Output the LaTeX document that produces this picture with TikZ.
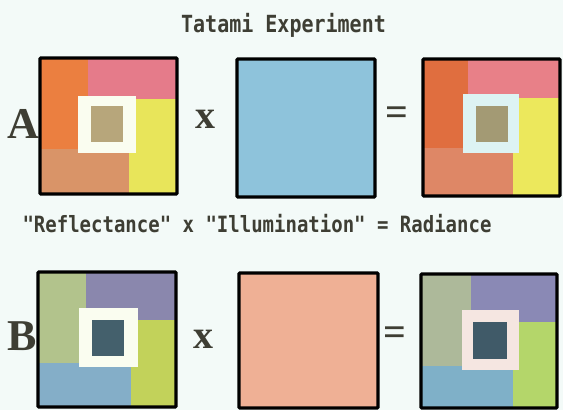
\documentclass[tikz,border=0pt]{standalone}
\usepackage{fontspec}
\usepackage{graphicx}
\newfontfamily\monob{DejaVu Sans Mono}
\newfontfamily\serifb{Liberation Serif}
\definecolor{bg}{HTML}{F3FAF8}
\definecolor{txt}{HTML}{3E3E34}
% A reflectance
\definecolor{aOr}{HTML}{EB7F40}
\definecolor{aPk}{HTML}{E57B8A}
\definecolor{aYe}{HTML}{E8E55A}
\definecolor{aTn}{HTML}{D99468}
\definecolor{aFr}{HTML}{FAFDF0}
\definecolor{aIn}{HTML}{B7A67B}
% A radiance
\definecolor{rOr}{HTML}{E06E3F}
\definecolor{rPk}{HTML}{E88088}
\definecolor{rYe}{HTML}{ECE85C}
\definecolor{rTn}{HTML}{DE8766}
\definecolor{rFr}{HTML}{DDF3F3}
\definecolor{rIn}{HTML}{A39A74}
% B reflectance
\definecolor{bSg}{HTML}{B2C38C}
\definecolor{bPu}{HTML}{8A87AD}
\definecolor{bYg}{HTML}{C2D25A}
\definecolor{bBl}{HTML}{84AEC8}
\definecolor{bFr}{HTML}{FAFDF0}
\definecolor{bIn}{HTML}{44606C}
% B radiance
\definecolor{sSg}{HTML}{ADB99A}
\definecolor{sPu}{HTML}{8A89B5}
\definecolor{sGr}{HTML}{B4D66A}
\definecolor{sBl}{HTML}{7FB0C8}
\definecolor{sFr}{HTML}{F5E6E1}
\definecolor{sIn}{HTML}{405A68}
% illuminations
\definecolor{illA}{HTML}{8EC3DB}
\definecolor{illB}{HTML}{EFB095}
\tikzset{
  border/.style={draw=black, line width=3.2pt, rounded corners=1pt},
  bigsym/.style={text=txt, font=\serifb\bfseries\fontsize{44}{44}\selectfont, inner sep=0pt},
  opsym/.style={text=txt, font=\serifb\bfseries\fontsize{40}{40}\selectfont, inner sep=0pt},
  caption/.style={text=txt, font=\monob\bfseries\fontsize{19}{19}\selectfont, inner sep=0pt}
}
\begin{document}
\begin{tikzpicture}[x=1pt,y=-1pt]
\fill[bg] (0,0) rectangle (563,410);
\useasboundingbox (0,0) rectangle (563,410);

% Title
\node[caption, font=\monob\bfseries\fontsize{20}{20}\selectfont] (title) at (283.5,25) {\scalebox{1}[1.18]{Tatami Experiment}};

% ---------- Row A ----------
\node[bigsym] (la) at (23,124) {A};
% reflectance A
\fill[aOr] (40,58) rectangle (88,149);
\fill[aPk] (88,58) rectangle (177,99);
\fill[aYe] (129,99) rectangle (177,194);
\fill[aTn] (40,149) rectangle (129,194);
\fill[aFr] (78,96) rectangle (136,153);
\fill[aIn] (91,106) rectangle (123,142);
\draw[border] (40,58) rectangle (177,194);
\node[opsym] (xa) at (205,119) {x};
% illumination A
\node[border, fill=illA, minimum width=138pt, minimum height=138pt, inner sep=0pt] (illa) at (306,128) {};
\node[opsym] (eqa) at (397,116) {=};
% radiance A
\fill[rOr] (423,59) rectangle (468,148);
\fill[rPk] (468,59) rectangle (560,98);
\fill[rYe] (513,98) rectangle (560,196);
\fill[rTn] (423,148) rectangle (513,196);
\fill[rFr] (463,94) rectangle (519,153);
\fill[rIn] (476,106) rectangle (508,142);
\draw[border] (423,59) rectangle (560,196);

% Caption
\node[caption] (cap) at (257,224) {\scalebox{1}[1.18]{"Reflectance" x "Illumination" = Radiance}};

% ---------- Row B ----------
\node[bigsym] (lb) at (22,336) {B};
% reflectance B
\fill[bSg] (38,272) rectangle (86,363);
\fill[bPu] (86,272) rectangle (176,320);
\fill[bYg] (131,320) rectangle (176,407);
\fill[bBl] (38,363) rectangle (131,407);
\fill[bFr] (79,308) rectangle (138,367);
\fill[bIn] (92,320) rectangle (124,356);
\draw[border] (38,272) rectangle (176,407);
\node[opsym] (xb) at (203,339) {x};
% illumination B
\node[border, fill=illB, minimum width=139pt, minimum height=135pt, inner sep=0pt] (illb) at (308.5,340.5) {};
\node[opsym] (eqb) at (395,336) {=};
% radiance B
\fill[sSg] (421,274) rectangle (471,366);
\fill[sPu] (471,274) rectangle (557,322);
\fill[sGr] (513,322) rectangle (557,408);
\fill[sBl] (421,366) rectangle (513,408);
\fill[sFr] (462,310) rectangle (519,370);
\fill[sIn] (473,322) rectangle (507,359);
\draw[border] (421,274) rectangle (557,408);
\end{tikzpicture}
\end{document}
